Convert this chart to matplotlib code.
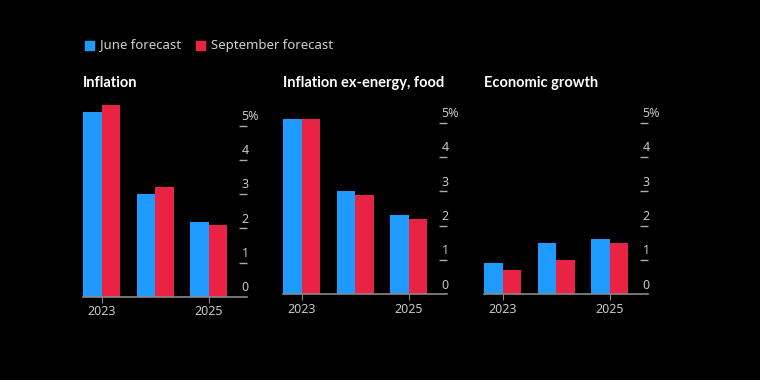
import matplotlib.pyplot as plt
import matplotlib.transforms as mtransforms
import numpy as np

# ECB staff projections
years = ['2023', '2024', '2025']
titles = ['Inflation', 'Inflation ex-energy, food', 'Economic growth']
june = [[5.4, 3.0, 2.2], [5.1, 3.0, 2.3], [0.9, 1.5, 1.6]]
september = [[5.6, 3.2, 2.1], [5.1, 2.9, 2.2], [0.7, 1.0, 1.5]]
yticks = [0, 1, 2, 3, 4, 5]
ytick_labels = ['0', '1', '2', '3', '4', '5%']

blue = '#1f9bff'
red = '#ea2244'
grey = '#8a8a8a'

plt.rcParams['font.family'] = ['Noto Sans', 'DejaVu Sans']

fig = plt.figure(figsize=(7.6, 3.8), dpi=100, facecolor='black')

W, H = 760, 380
lefts = [83, 283, 484]
baselines = [297, 294.3, 294.3]
pw = 164
ph = 192

x = np.arange(len(years))
bw = 0.35

for i in range(3):
    ax = fig.add_axes([lefts[i] / W, (H - baselines[i]) / H, pw / W, ph / H])
    ax.set_facecolor('black')
    ax.bar(x - bw / 2, june[i], bw, color=blue, linewidth=0)
    ax.bar(x + bw / 2, september[i], bw, color=red, linewidth=0)
    ax.set_xlim(-0.35, 2.715)
    ax.set_ylim(0, 5.6)
    for s in ['top', 'left', 'right']:
        ax.spines[s].set_visible(False)
    ax.spines['bottom'].set_color(grey)
    ax.spines['bottom'].set_linewidth(1.2)

    ax.set_xticks([0, 2])
    ax.set_xticklabels(['2023', '2025'], color='#c8c8c8', fontsize=9)
    ax.tick_params(axis='x', length=4, color=grey, pad=2)

    ax.yaxis.tick_right()
    ax.set_yticks(yticks[1:])
    ax.set_yticklabels([])
    ax.tick_params(axis='y', direction='in', length=6, width=1, color='#aaaaaa')

    off = mtransforms.ScaledTranslation(-4 / 72, 2 / 72, fig.dpi_scale_trans)
    tr = mtransforms.blended_transform_factory(ax.transAxes, ax.transData) + off
    for v, lab in zip(yticks, ytick_labels):
        ax.text(1.0, v, lab, transform=tr, ha='left', va='bottom',
                color='#c8c8c8', fontsize=9)

    fig.text(lefts[i] / W, 1 - 83 / H, titles[i], color='white',
             fontsize=10.5, fontweight='bold', family=['Lato', 'DejaVu Sans'],
             ha='left', va='center')

# legend
fig.patches.append(plt.Rectangle((85 / W, 1 - 50 / H), 9 / W, 9 / H,
                                 color=blue, transform=fig.transFigure))
fig.text(100 / W, 1 - 45 / H, 'June forecast', color='#d0d0d0',
         fontsize=9.5, ha='left', va='center')
fig.patches.append(plt.Rectangle((196 / W, 1 - 50 / H), 9 / W, 9 / H,
                                 color=red, transform=fig.transFigure))
fig.text(211 / W, 1 - 45 / H, 'September forecast', color='#d0d0d0',
         fontsize=9.5, ha='left', va='center')

fig.savefig('out.png', dpi=100, facecolor='black')
